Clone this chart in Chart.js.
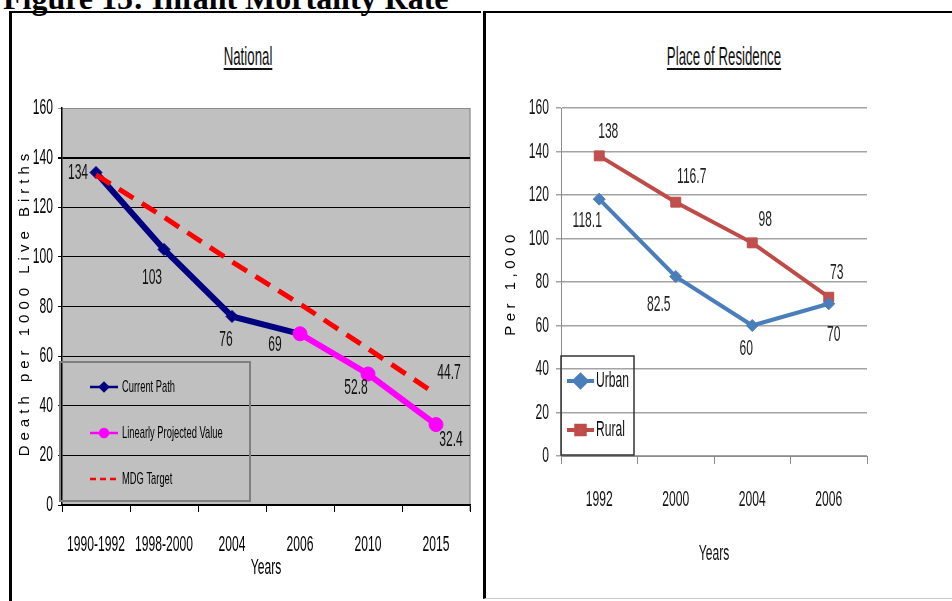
<!DOCTYPE html>
<html>
<head>
<meta charset="utf-8">
<title>Figure 15: Infant Mortality Rate</title>
<script src="https://cdn.jsdelivr.net/npm/chart.js@4.4.0/dist/chart.umd.min.js"></script>
<style>
  body { margin: 0; width: 952px; height: 601px; overflow: hidden; background: #fff; position: relative;
         font-family: 'Liberation Sans', Arial, sans-serif; }
  #figTitle { position: absolute; left: 3px; top: -20px; font: bold 32px 'Liberation Serif', serif; white-space: nowrap; }
  .frame { position: absolute; border-top: 2px solid #000; border-left: 3px solid #000; box-sizing: border-box; }
  #leftFrame { left: 9px; top: 11px; width: 472px; height: 600px; }
  #rightFrame { left: 483px; top: 11px; width: 469px; height: 588px; border-bottom: 1px solid #ccc; }
  .ptitle { position: absolute; top: 41px; transform: translateX(-50%) scaleX(0.51); white-space: nowrap; color: #111;
            text-decoration: underline; text-decoration-thickness: 2px; text-underline-offset: 3px; }
  #natTitle { left: 248px; font-size: 26px; }
  #resTitle { left: 724px; font-size: 26px; }
  canvas { position: absolute; }
  #natChart { left: 12px; top: 14px; }
  #resChart { left: 487px; top: 14px; }
</style>
</head>
<body>
<div id="figTitle">Figure 15: Infant Mortality Rate</div>
<div class="frame" id="leftFrame"></div>
<div class="frame" id="rightFrame"></div>
<div class="ptitle" id="natTitle">National</div>
<div class="ptitle" id="resTitle">Place of Residence</div>
<canvas id="natChart" width="466" height="586"></canvas>
<canvas id="resChart" width="465" height="584"></canvas>
<script>
const FONT = "'Liberation Sans', Arial, sans-serif";

// National
const natYears = ['1990-1992', '1998-2000', '2004', '2006', '2010', '2015'];
const currentPath = [134, 103, 76, 69, null, null];
const projected = [null, null, null, 69, 52.8, 32.4];
const mdgTarget = [133, 116, 98, 81, 63, 44.7];

// Place of residence
const resYears = ['1992', '2000', '2004', '2006'];
const urban = [118.1, 82.5, 60, 70];
const rural = [138, 116.7, 98, 73];

// the source figure uses a very condensed face, so squeeze canvas text sideways
const squeezeText = {
  id: 'squeezeText',
  beforeDraw(chart, args, opts) {
    const ctx = chart.ctx;
    if (ctx._plainFill) return;
    ctx._plainFill = ctx.fillText;
    ctx.fillText = function (text, x, y, maxWidth) {
      if (this._noSqueeze) return this._plainFill(text, x, y);
      this.save();
      this.translate(x, y);
      this.scale(opts.factor, 1);
      if (maxWidth === undefined) this._plainFill(text, 0, 0);
      else this._plainFill(text, 0, 0, maxWidth / opts.factor);
      this.restore();
    };
  }
};

// fills the plot area (grey box on the national chart)
const plotBg = {
  id: 'plotBg',
  beforeDraw(chart, args, opts) {
    if (!opts.color) return;
    const { ctx, chartArea: a } = chart;
    ctx.save();
    ctx.fillStyle = opts.color;
    ctx.fillRect(a.left, a.top, a.right - a.left, a.bottom - a.top);
    ctx.strokeStyle = opts.border;
    ctx.lineWidth = 1.5;
    ctx.beginPath();
    ctx.moveTo(a.right, a.top);
    ctx.lineTo(a.right, a.bottom + 6);
    ctx.stroke();
    ctx.restore();
  }
};

// numbers next to the points
const valueLabels = {
  id: 'valueLabels',
  afterDatasetsDraw(chart, args, opts) {
    const ctx = chart.ctx;
    ctx.save();
    ctx.font = opts.font;
    ctx.fillStyle = opts.color;
    ctx.textAlign = 'center';
    ctx.textBaseline = 'middle';
    chart.data.datasets.forEach((ds, di) => {
      if (!ds.labelOffsets) return;
      const meta = chart.getDatasetMeta(di);
      ds.labelOffsets.forEach((o, i) => {
        if (!o) return;
        const pt = meta.data[i];
        ctx.fillText(String(ds.data[i]), pt.x + o[0], pt.y + o[1]);
      });
    });
    ctx.restore();
  }
};

// legend drawn inside the plot area, in a box
const boxLegend = {
  id: 'boxLegend',
  afterDatasetsDraw(chart, args, opts) {
    if (!opts.items) return;
    const { ctx, chartArea: a } = chart;
    const x = a.left + opts.x, y = a.top + opts.y;
    ctx.save();
    ctx.strokeStyle = opts.borderColor;
    ctx.lineWidth = opts.borderWidth;
    ctx.strokeRect(x, y, opts.width, opts.height);
    ctx.font = opts.font;
    ctx.textBaseline = 'middle';
    ctx.textAlign = 'left';
    opts.items.forEach((di, k) => {
      const ds = chart.data.datasets[di];
      const cy = y + opts.firstRow + k * opts.rowGap;
      const sx = x + opts.sampleX;
      ctx.beginPath();
      ctx.setLineDash(ds.borderDash ? opts.sampleDash : []);
      ctx.lineWidth = opts.sampleWidth;
      ctx.strokeStyle = ds.borderColor;
      ctx.moveTo(sx, cy);
      ctx.lineTo(sx + opts.sampleLen, cy);
      ctx.stroke();
      ctx.setLineDash([]);
      if (ds.pointRadius) {
        ctx.fillStyle = ds.backgroundColor;
        ctx.strokeStyle = ds.borderColor;
        Chart.helpers.drawPoint(ctx, { pointStyle: ds.pointStyle, radius: opts.markerRadius, rotation: 0, borderWidth: 1 },
          sx + opts.sampleLen / 2, cy);
      }
      ctx.fillStyle = opts.color;
      ctx.fillText(ds.label, x + opts.textX, cy);
    });
    ctx.restore();
  }
};

// rotated y axis title with letter spacing
const sideTitle = {
  id: 'sideTitle',
  afterDraw(chart, args, opts) {
    if (!opts.text) return;
    const { ctx, chartArea: a } = chart;
    ctx.save();
    ctx._noSqueeze = true;
    ctx.translate(opts.x, (a.top + a.bottom) / 2 + opts.dy);
    ctx.rotate(-Math.PI / 2);
    ctx.font = opts.font;
    ctx.letterSpacing = opts.spacing;
    ctx.fillStyle = '#000';
    ctx.textAlign = 'center';
    ctx.textBaseline = 'middle';
    ctx.fillText(opts.text, 0, 0);
    ctx._noSqueeze = false;
    ctx.restore();
  }
};

Chart.register(squeezeText, plotBg, valueLabels, boxLegend, sideTitle);

// keep the category axis from shrinking the plot for its end labels
const noEdgePad = s => { s.paddingLeft = 0; s.paddingRight = 0; };

new Chart(document.getElementById('natChart'), {
  type: 'line',
  data: {
    labels: natYears,
    datasets: [
      {
        label: 'Current Path', data: currentPath, order: 3,
        borderColor: '#000080', backgroundColor: '#000080', borderWidth: 6,
        pointStyle: 'rectRot', pointRadius: 6, pointBorderWidth: 1,
        labelOffsets: [[-18, 0], [-12, 29], [-6, 24], [-25, 11]]
      },
      {
        label: 'Linearly Projected Value', data: projected, order: 2,
        borderColor: '#ff00ff', backgroundColor: '#ff00ff', borderWidth: 6,
        pointStyle: 'circle', pointRadius: 7, pointBorderWidth: 1,
        labelOffsets: [null, null, null, null, [-12, 14], [15, 15]]
      },
      {
        label: 'MDG Target', data: mdgTarget, order: 1,
        borderColor: '#ff0000', backgroundColor: '#ff0000', borderWidth: 5,
        borderDash: [17, 10], pointRadius: 0,
        labelOffsets: [null, null, null, null, null, [13, -21]]
      }
    ]
  },
  options: {
    responsive: false,
    animation: false,
    devicePixelRatio: 1,
    layout: { padding: { top: 94, right: -3, left: 0, bottom: 0 } },
    scales: {
      x: {
        offset: true,
        grid: { drawOnChartArea: false, drawTicks: true, tickLength: 7, offset: true, color: '#000' },
        border: { color: '#000', width: 1.5 },
        ticks: { font: { family: FONT, size: 22 }, color: '#000', padding: 20, maxRotation: 0, autoSkip: false },
        title: { display: true, text: 'Years', font: { family: FONT, size: 22 }, color: '#000', padding: { top: 0, bottom: 19 } },
        afterFit: s => { s.height = 95; noEdgePad(s); }
      },
      y: {
        min: 0, max: 160,
        grid: {
          color: c => (c.tick && c.tick.value === 160) ? '#8c8c8c' : '#000',
          lineWidth: c => (c.tick && c.tick.value === 140) ? 2 : 1,
          tickLength: 4
        },
        border: { color: '#000', width: 1.5 },
        ticks: { stepSize: 20, font: { family: FONT, size: 22 }, color: '#000', padding: 5 },
        afterFit: s => { s.width = 50; }
      }
    },
    plugins: {
      legend: { display: false },
      tooltip: { enabled: false },
      squeezeText: { factor: 0.55 },
      plotBg: { color: '#c0c0c0', border: '#9a9a9a' },
      valueLabels: { font: `22px ${FONT}`, color: '#111' },
      boxLegend: {
        items: [0, 1, 2], x: -2, y: 254, width: 190, height: 139,
        borderColor: '#7f7f7f', borderWidth: 2,
        firstRow: 25, rowGap: 46, sampleX: 30, sampleLen: 28, sampleWidth: 2.5, sampleDash: [6, 4],
        markerRadius: 4, textX: 62, font: `17px ${FONT}`, color: '#000'
      },
      sideTitle: { text: 'Death per 1000 Live Births', x: 13, dy: -4, font: `15px ${FONT}`, spacing: '5px' }
    }
  }
});

new Chart(document.getElementById('resChart'), {
  type: 'line',
  data: {
    labels: resYears,
    datasets: [
      {
        label: 'Urban', data: urban,
        borderColor: '#4a7ebb', backgroundColor: '#4a7ebb', borderWidth: 4,
        pointStyle: 'rectRot', pointRadius: 6, pointBorderWidth: 1,
        labelOffsets: [[-12, 22], [-17, 28], [-6, 23], [5, 31]]
      },
      {
        label: 'Rural', data: rural,
        borderColor: '#be4b48', backgroundColor: '#c0504d', borderWidth: 4,
        pointStyle: 'rect', pointRadius: 7, pointBorderWidth: 1,
        labelOffsets: [[9, -24], [16, -25], [13, -23], [8, -24]]
      }
    ]
  },
  options: {
    responsive: false,
    animation: false,
    devicePixelRatio: 1,
    layout: { padding: { top: 94, right: 85, left: 0, bottom: 0 } },
    scales: {
      x: {
        offset: true,
        grid: { drawOnChartArea: false, drawTicks: true, tickLength: 8, offset: true, color: '#8c8c8c' },
        border: { color: '#8c8c8c', width: 1 },
        ticks: { font: { family: FONT, size: 22 }, color: '#111', padding: 23, maxRotation: 0, autoSkip: false },
        title: { display: true, text: 'Years', font: { family: FONT, size: 22 }, color: '#111', padding: { top: 0, bottom: 31 } },
        afterFit: s => { s.height = 142; noEdgePad(s); }
      },
      y: {
        min: 0, max: 160,
        grid: { color: '#a3a3a3', lineWidth: 1.5, tickLength: 5 },
        border: { color: '#8c8c8c', width: 1 },
        ticks: { stepSize: 20, font: { family: FONT, size: 22 }, color: '#111', padding: 7 },
        afterFit: s => { s.width = 74; }
      }
    },
    plugins: {
      legend: { display: false },
      tooltip: { enabled: false },
      squeezeText: { factor: 0.55 },
      plotBg: {},
      valueLabels: { font: `22px ${FONT}`, color: '#222' },
      boxLegend: {
        items: [0, 1], x: 0, y: 248, width: 73, height: 99,
        borderColor: '#333', borderWidth: 1.5,
        firstRow: 25, rowGap: 49, sampleX: 6, sampleLen: 27, sampleWidth: 4, sampleDash: [],
        markerRadius: 6, textX: 35, font: `22px ${FONT}`, color: '#111'
      },
      sideTitle: { text: 'Per 1,000', x: 24, dy: 1, font: `15px ${FONT}`, spacing: '4.5px' }
    }
  }
});
</script>
</body>
</html>
